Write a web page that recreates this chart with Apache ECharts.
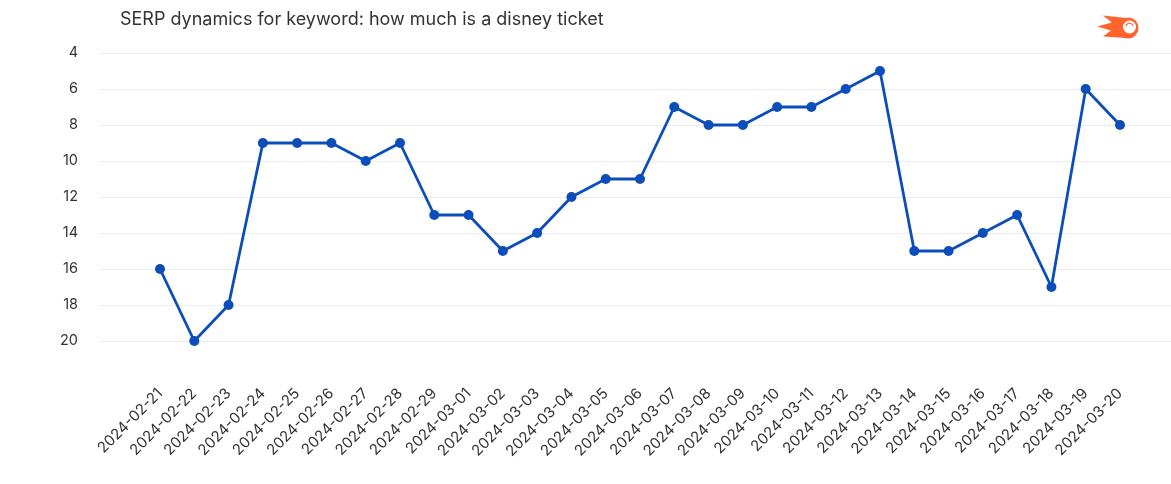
<!DOCTYPE html>
<html>
<head>
<meta charset="utf-8">
<script src="https://cdn.jsdelivr.net/npm/echarts@6/dist/echarts.min.js"></script>
<style>
  html, body { margin: 0; padding: 0; background: #fff; }
  #chart { width: 1171px; height: 484px; }
</style>
</head>
<body>
<div id="chart"></div>
<script>
const titleText = 'SERP dynamics for keyword: how much is a disney ticket';
const dates = ['2024-02-21','2024-02-22','2024-02-23','2024-02-24','2024-02-25','2024-02-26','2024-02-27','2024-02-28','2024-02-29',
  '2024-03-01','2024-03-02','2024-03-03','2024-03-04','2024-03-05','2024-03-06','2024-03-07','2024-03-08','2024-03-09','2024-03-10',
  '2024-03-11','2024-03-12','2024-03-13','2024-03-14','2024-03-15','2024-03-16','2024-03-17','2024-03-18','2024-03-19','2024-03-20'];
const positions = [16, 20, 18, 9, 9, 9, 10, 9, 13, 13, 15, 14, 12, 11, 11, 7, 8, 8, 7, 7, 6, 5, 15, 15, 14, 13, 17, 6, 8];
const yMin = 4, yMax = 20, yStep = 2;

const FONT = 'Inter, "Noto Sans", sans-serif';
const chart = echarts.init(document.getElementById('chart'), null, { renderer: 'canvas' });
const orange = '#ff642d';

chart.setOption({
  backgroundColor: '#fff',
  animation: false,
  title: {
    text: titleText,
    left: 115, top: 6,
    textStyle: { fontFamily: FONT, fontSize: 18, fontWeight: 'normal', color: '#333' }
  },
  grid: [
    { left: 100, right: 0, top: 53, bottom: 143 },
    { left: 142.86, right: 33.86, top: 53, bottom: 143 }
  ],
  xAxis: [
    { type: 'category', gridIndex: 0, data: dates, show: false },
    {
      type: 'category', gridIndex: 1, data: dates, boundaryGap: true,
      axisLine: { show: false }, axisTick: { show: false },
      axisLabel: { rotate: 45, margin: 50, interval: 0, fontFamily: FONT, fontSize: 15, color: '#333' }
    }
  ],
  yAxis: [
    {
      type: 'value', gridIndex: 0, inverse: true, min: yMin, max: yMax, interval: yStep,
      axisLine: { show: false }, axisTick: { show: false },
      axisLabel: { margin: 22, fontFamily: FONT, fontSize: 14.5, color: '#333' },
      splitLine: { lineStyle: { color: '#ececec', width: 1 } }
    },
    {
      type: 'value', gridIndex: 1, inverse: true, min: yMin, max: yMax, interval: yStep,
      show: false, splitLine: { show: false }
    }
  ],
  series: [{
    type: 'line', xAxisIndex: 1, yAxisIndex: 1, data: positions,
    symbol: 'circle', symbolSize: 10,
    lineStyle: { color: '#0b4dbb', width: 2.8 },
    itemStyle: { color: '#0b4dbb' }
  }],
  graphic: [
    { type: 'polygon', shape: { points: [[1126,18],[1103,15.5],[1112,22.5],[1097,26.5],[1111,30.5],[1103,36.5],[1126,38]] }, style: { fill: orange } },
    { type: 'circle', shape: { cx: 1128, cy: 28, r: 10.5 }, style: { fill: orange } },
    { type: 'circle', shape: { cx: 1129.5, cy: 27, r: 6.5 }, style: { fill: '#fff' } },
    { type: 'arc', shape: { cx: 1129.5, cy: 27, r: 3.8, startAngle: -Math.PI * 0.95, endAngle: -Math.PI * 0.1 }, style: { stroke: orange, lineWidth: 1.2, fill: null } }
  ]
});
</script>
</body>
</html>
